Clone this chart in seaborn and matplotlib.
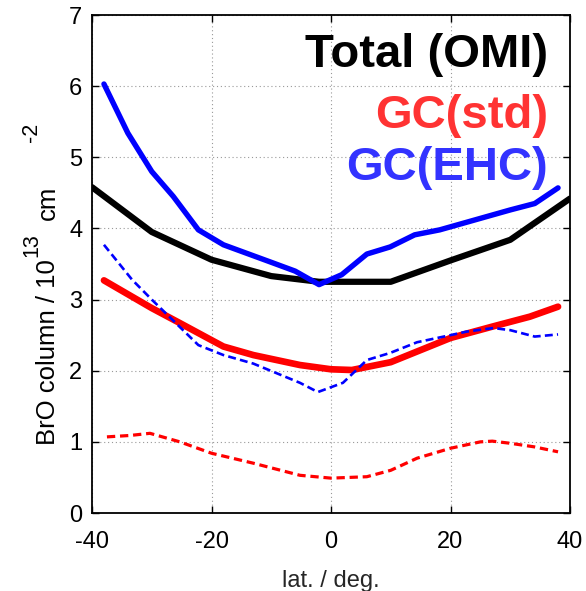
import matplotlib
matplotlib.use("Agg")
import matplotlib.pyplot as plt
import seaborn as sns
import pandas as pd

# Total (OMI)
omi_lat = [-40, -30, -20, -10, -2, 10, 20, 30, 40]
omi_val = [4.58, 3.95, 3.56, 3.33, 3.25, 3.25, 3.55, 3.84, 4.42]

# GC(EHC) total (solid blue)
ehc_lat = [-38, -34, -30, -26.4, -22.2, -18, -10.2, -6, -2, 1.8, 6, 9.9, 14, 18.2, 30, 34.1, 38]
ehc_val = [6.03, 5.34, 4.80, 4.45, 3.98, 3.77, 3.53, 3.40, 3.21, 3.35, 3.64, 3.74, 3.91, 3.98, 4.26, 4.35, 4.57]

# GC(EHC) tropospheric (dashed blue)
ehc_tr_lat = [-38, -33.3, -30, -22.2, -18, -13, -5.2, -2.2, 2, 6, 9.9, 14.4, 20, 22.7, 27.2, 30, 34.1, 38]
ehc_tr_val = [3.77, 3.28, 3.00, 2.36, 2.22, 2.10, 1.83, 1.70, 1.83, 2.15, 2.25, 2.40, 2.50, 2.55, 2.60, 2.57, 2.48, 2.51]

# GC(std) total (solid red)
std_lat = [-38, -30, -25.3, -20, -18, -13, -5.2, 0, 3.5, 10, 20, 27, 33.3, 38]
std_val = [3.27, 2.88, 2.67, 2.43, 2.34, 2.22, 2.08, 2.02, 2.01, 2.12, 2.46, 2.62, 2.76, 2.90]

# GC(std) tropospheric (dashed red)
std_tr_lat = [-37.5, -33.6, -30.3, -25.3, -20, -13, -5.2, 0, 6, 10, 14.4, 20, 25, 27, 30, 34, 38]
std_tr_val = [1.07, 1.09, 1.12, 1.00, 0.84, 0.70, 0.53, 0.49, 0.51, 0.60, 0.77, 0.91, 1.00, 1.01, 0.98, 0.93, 0.86]

x_ticks = [-40, -20, 0, 20, 40]
y_ticks = [0, 1, 2, 3, 4, 5, 6, 7]

sns.set_style("ticks")
plt.rcParams['font.family'] = ['Liberation Sans', 'DejaVu Sans']

W, H = 586, 591
fig = plt.figure(figsize=(W / 100, H / 100), dpi=100)
ax = fig.add_axes([92 / W, 78 / H, 478 / W, 498 / H])

def df(lat, val):
    return pd.DataFrame({"lat": lat, "val": val})

sns.lineplot(data=df(omi_lat, omi_val), x="lat", y="val", ax=ax, color="black", linewidth=4.5, sort=False)
sns.lineplot(data=df(ehc_lat, ehc_val), x="lat", y="val", ax=ax, color="#0000ff", linewidth=3.9, sort=False)
sns.lineplot(data=df(std_lat, std_val), x="lat", y="val", ax=ax, color="#ff0000", linewidth=4.8, sort=False)
sns.lineplot(data=df(ehc_tr_lat, ehc_tr_val), x="lat", y="val", ax=ax, color="#0000ff", linewidth=1.9, sort=False)
ax.lines[-1].set_dashes([3, 1.6])
sns.lineplot(data=df(std_tr_lat, std_tr_val), x="lat", y="val", ax=ax, color="#ff0000", linewidth=2.3, sort=False)
ax.lines[-1].set_dashes([2.6, 1.5])

ax.set_xlim(-40, 40)
ax.set_ylim(0, 7)
ax.set_xticks(x_ticks)
ax.set_yticks(y_ticks)
ax.set_xticklabels([str(t) for t in x_ticks])
ax.set_yticklabels([str(t) for t in y_ticks])
ax.tick_params(direction="in", length=5, width=1.0, top=True, right=True, labelsize=17, colors="black")
ax.tick_params(axis="x", pad=13)
ax.tick_params(axis="y", pad=7)
ax.grid(True, linestyle=(0, (1, 2.5)), color="#999999", linewidth=0.8)
for s in ax.spines.values():
    s.set_linewidth(1.3)
    s.set_color("black")

ax.set_xlabel("lat. / deg.", fontsize=17)
ax.xaxis.set_label_coords(0.5, -0.114)
ax.set_ylabel("")

# y-axis label built from pieces (full-size raised exponents)
def ytxt(xpx, ypx, s, size):
    fig.text(xpx / W, 1 - ypx / H, s, rotation=90, rotation_mode="anchor",
             ha="left", va="baseline", fontsize=size, color="black")

ytxt(55, 445, "BrO column / 10", 18.5)
ytxt(37, 257, "13", 15.5)
ytxt(55, 220, "cm", 18.5)
ytxt(37, 142, "-2", 15.5)

fig.text(548 / W, 1 - 67 / H, "Total (OMI)", ha="right", va="baseline", fontsize=34, fontweight="bold", color="black")
fig.text(548 / W, 1 - 128 / H, "GC(std)", ha="right", va="baseline", fontsize=34, fontweight="bold", color="#ff3333")
fig.text(548 / W, 1 - 180 / H, "GC(EHC)", ha="right", va="baseline", fontsize=34, fontweight="bold", color="#3333ff")

fig.savefig("out.png", dpi=100)
